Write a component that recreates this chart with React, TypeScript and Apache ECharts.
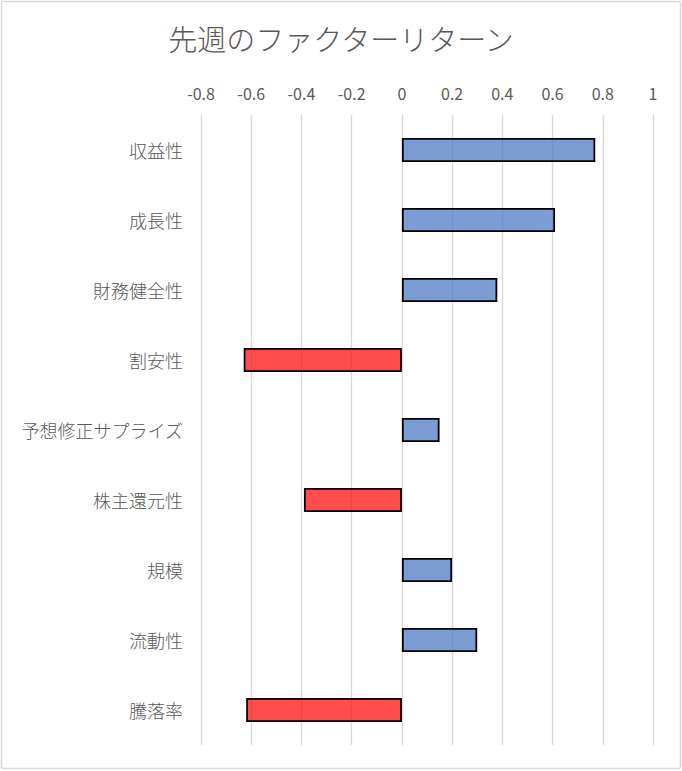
import { useEffect, useRef } from "react";
import * as echarts from "echarts";

const categories = [
  "収益性",
  "成長性",
  "財務健全性",
  "割安性",
  "予想修正サプライズ",
  "株主還元性",
  "規模",
  "流動性",
  "騰落率",
];
const returns = [0.77, 0.61, 0.38, -0.63, 0.15, -0.39, 0.2, 0.3, -0.62];
const xTicks = { min: -0.8, max: 1, interval: 0.2 };

const FONT = "'Noto Sans CJK JP', 'Noto Sans', sans-serif";

export default function App() {
  const ref = useRef<HTMLDivElement | null>(null);

  useEffect(() => {
    document.body.style.margin = "0";
    if (!ref.current) return;
    const chart = echarts.init(ref.current, null, { renderer: "svg" });
    chart.setOption({
      animation: false,
      backgroundColor: "#fff",
      title: {
        text: "先週のファクターリターン",
        left: "center",
        top: 18,
        textStyle: { fontFamily: FONT, fontSize: 29, fontWeight: 300, color: "#595959" },
      },
      graphic: [
        {
          type: "rect",
          shape: { x: 1.5, y: 1.5, width: 679, height: 767, r: 2 },
          style: { fill: "none", stroke: "#d9d9d9", lineWidth: 1.5 },
          silent: true,
        },
      ],
      grid: { left: 201, right: 29, top: 115, bottom: 26 },
      xAxis: {
        type: "value",
        position: "top",
        min: xTicks.min,
        max: xTicks.max,
        interval: xTicks.interval,
        axisLine: { show: false },
        axisTick: { show: false },
        axisLabel: { color: "#595959", fontSize: 16, fontFamily: FONT, margin: 14 },
        splitLine: { lineStyle: { color: "#d9d9d9", width: 1.4 } },
      },
      yAxis: {
        type: "category",
        data: categories,
        inverse: true,
        axisLine: { show: false, onZero: false },
        axisTick: { show: false },
        splitLine: { show: false },
        axisLabel: { color: "#595959", fontSize: 18, fontWeight: 300, fontFamily: FONT, margin: 18 },
      },
      series: [
        {
          type: "bar",
          data: returns,
          barWidth: 24,
          itemStyle: {
            color: (p: any) => (p.value >= 0 ? "rgba(68,114,196,0.7)" : "rgba(255,0,0,0.7)"),
            borderColor: "#000",
            borderWidth: 1.8,
          },
        },
      ],
    });
    return () => chart.dispose();
  }, []);

  return <div ref={ref} style={{ width: 682, height: 771 }} />;
}
